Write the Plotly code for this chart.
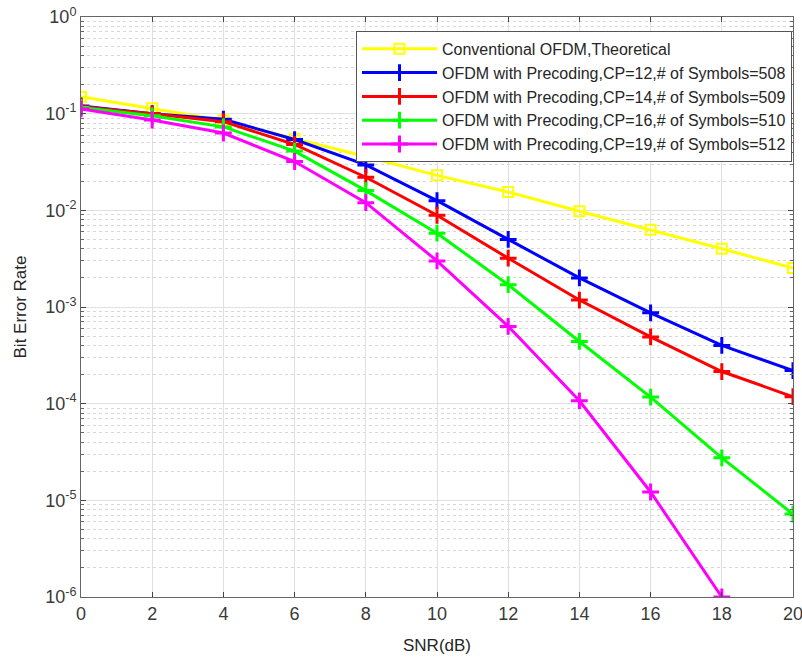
import plotly.graph_objects as go

snr = [0, 2, 4, 6, 8, 10, 12, 14, 16, 18, 20]
ber_theory = [0.150, 0.1135, 0.085, 0.055, 0.036, 0.023, 0.0155, 0.0098, 0.0063, 0.0040, 0.00253]
ber_cp12 = [0.120, 0.100, 0.0875, 0.054, 0.0295, 0.0126, 0.0050, 0.0020, 0.00087, 0.00040, 0.00022]
ber_cp14 = [0.118, 0.100, 0.0826, 0.048, 0.022, 0.0089, 0.0032, 0.00118, 0.00049, 0.000215, 0.000118]
ber_cp16 = [0.116, 0.095, 0.073, 0.041, 0.016, 0.0058, 0.0017, 0.00044, 0.000117, 0.0000275, 0.0000072]
ber_cp19 = [0.112, 0.086, 0.063, 0.032, 0.012, 0.0030, 0.00063, 0.000107, 0.0000122, 0.000001]
snr_cp19 = snr[:10]

names = [
    "Conventional OFDM,Theoretical",
    "OFDM with Precoding,CP=12,# of Symbols=508",
    "OFDM with Precoding,CP=14,# of Symbols=509",
    "OFDM with Precoding,CP=16,# of Symbols=510",
    "OFDM with Precoding,CP=19,# of Symbols=512",
]
y_tickvals = [1e0, 1e-1, 1e-2, 1e-3, 1e-4, 1e-5, 1e-6]
y_ticktext = ["10<sup>0</sup>", "10<sup>-1</sup>", "10<sup>-2</sup>", "10<sup>-3</sup>",
              "10<sup>-4</sup>", "10<sup>-5</sup>", "10<sup>-6</sup>"]
x_ticks = [0, 2, 4, 6, 8, 10, 12, 14, 16, 18, 20]

fig = go.Figure()
fig.add_trace(go.Scatter(x=snr, y=ber_theory, name=names[0], mode="lines+markers",
                         line=dict(color="#FFFF00", width=3),
                         marker=dict(symbol="square-open", size=10, color="#FFFF00", line=dict(width=2))))
series = [(snr, ber_cp12, "#0000FF"), (snr, ber_cp14, "#FF0000"),
          (snr, ber_cp16, "#00FF00"), (snr_cp19, ber_cp19, "#FF00FF")]
for i, (xs, ys, c) in enumerate(series):
    fig.add_trace(go.Scatter(x=xs, y=ys, name=names[i + 1], mode="lines+markers",
                             line=dict(color=c, width=3),
                             marker=dict(symbol="cross-thin-open", size=12, color=c, line=dict(width=3, color=c))))

fam = "Liberation Sans, Arial, sans-serif"
tick_font = dict(family=fam, size=18, color="#3a3a3a")
fig.update_layout(
    width=802, height=658,
    margin=dict(l=81, r=9, t=17, b=61),
    paper_bgcolor="white", plot_bgcolor="white",
    font=dict(family=fam, size=17, color="#262626"),
    showlegend=True,
    legend=dict(x=0.9986, y=0.976, xanchor="right", yanchor="top",
                bgcolor="white", bordercolor="#555555", borderwidth=1,
                font=dict(family=fam, size=16, color="#262626"),
                tracegroupgap=0, itemwidth=75),
    xaxis=dict(range=[0, 20], tickvals=x_ticks, ticks="inside", ticklen=5,
               showline=True, linecolor="#666666", mirror="ticks", linewidth=1,
               showgrid=True, gridcolor="#E0E0E0", zeroline=False, automargin=False,
               ticklabeloverflow="allow",
               title=dict(text="SNR(dB)", standoff=16, font=dict(family=fam, size=17, color="#262626")),
               tickfont=tick_font),
    yaxis=dict(type="log", range=[-6, 0], tickvals=y_tickvals, ticktext=y_ticktext,
               ticks="inside", ticklen=5, automargin=False,
               showline=True, linecolor="#666666", mirror="ticks", linewidth=1,
               showgrid=True, gridcolor="#E0E0E0", zeroline=False,
               minor=dict(ticks="inside", ticklen=3, tickcolor="#666666", showgrid=True, griddash="dot",
                          gridcolor="#D8D8D8", dtick="D1"),
               title=dict(text="Bit Error Rate", standoff=14, font=dict(family=fam, size=17, color="#262626")),
               tickfont=tick_font),
)

fig.write_html("out.html")
